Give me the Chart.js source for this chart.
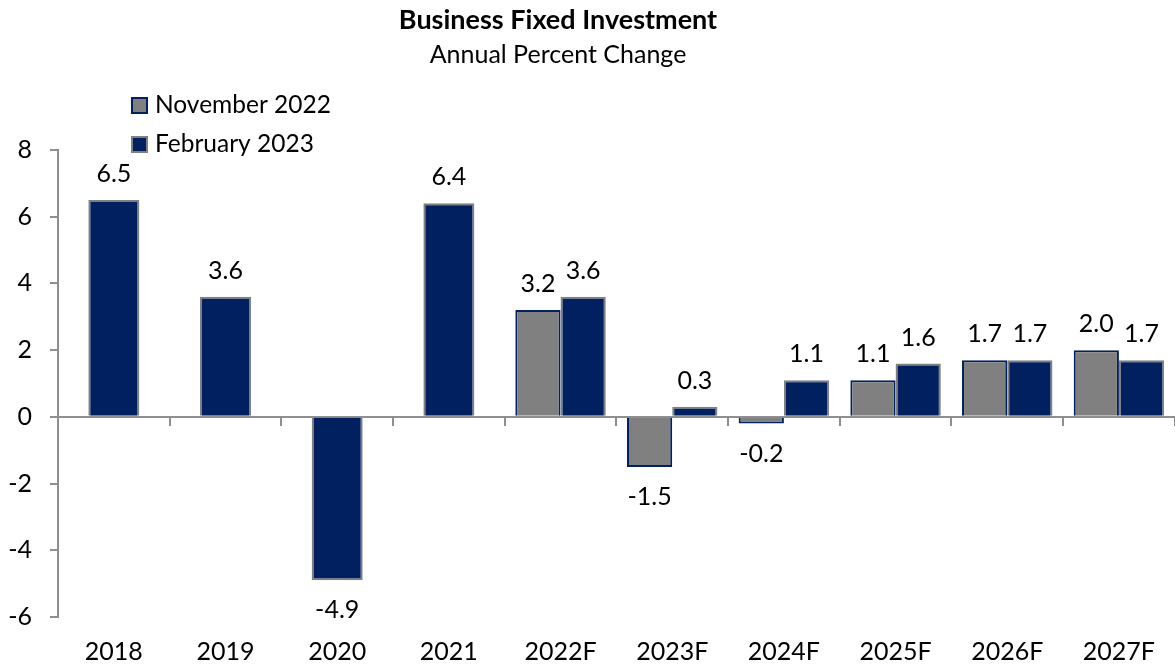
<!DOCTYPE html>
<html>
<head>
<meta charset="utf-8">
<script src="https://cdn.jsdelivr.net/npm/chart.js@4.4.1/dist/chart.umd.min.js"></script>
<style>
  html, body { margin: 0; padding: 0; background: #fff; }
</style>
</head>
<body>
<canvas id="chart" width="1175" height="668"></canvas>
<script>
// data
const categories = ["2018", "2019", "2020", "2021", "2022F", "2023F", "2024F", "2025F", "2026F", "2027F"];
const november2022 = [null, null, null, null, 3.2, -1.5, -0.2, 1.1, 1.7, 2.0];
const february2023 = [6.5, 3.6, -4.9, 6.4, 3.6, 0.3, 1.1, 1.6, 1.7, 1.7];
const yTicks = [-6, -4, -2, 0, 2, 4, 6, 8];

const titleText = "Business Fixed Investment";
const subtitleText = "Annual Percent Change";

const NAVY = "#002060";
const GREY = "#808080";
const AXIS = "#8f8f8f";
const FONT = "Lato, 'Liberation Sans', sans-serif";

// title, subtitle and the stacked legend in the top-left
const headerPlugin = {
    id: "header",
    afterDraw(chart) {
        const c = chart.ctx;
        c.save();
        c.fillStyle = "#000";
        c.textAlign = "center";
        c.textBaseline = "middle";
        c.font = "bold 27px " + FONT;
        c.fillText(titleText, 558, 20);
        c.font = "25px " + FONT;
        c.fillText(subtitleText, 558, 55);

        // legend
        c.textAlign = "left";
        c.font = "24.5px " + FONT;
        chart.data.datasets.forEach((ds, i) => {
            const y = 105 + i * 39;
            c.fillStyle = ds.backgroundColor;
            c.fillRect(131, y - 8, 17, 17);
            c.strokeStyle = ds.borderColor;
            c.lineWidth = 2;
            c.strokeRect(132, y - 7, 15, 15);
            c.fillStyle = "#000";
            c.fillText(ds.label, 155, y);
        });
        c.restore();
    }
};

// value labels above / below each bar
const valueLabels = {
    id: "valueLabels",
    afterDatasetsDraw(chart) {
        const c = chart.ctx;
        c.save();
        c.fillStyle = "#000";
        c.font = "25px " + FONT;
        c.textAlign = "center";
        c.textBaseline = "middle";
        chart.data.datasets.forEach((ds, di) => {
            const meta = chart.getDatasetMeta(di);
            meta.data.forEach((bar, i) => {
                const v = ds.data[i];
                if (v === null || v === undefined) return;
                const y = v >= 0 ? bar.y - 26 : bar.y + 30;
                c.fillText(v.toFixed(1), bar.x, y);
            });
        });
        c.restore();
    }
};

const ctx = document.getElementById("chart").getContext("2d");

const chart = new Chart(ctx, {
    type: "bar",
    data: {
        labels: categories,
        datasets: [
            {
                label: "November 2022",
                data: november2022,
                backgroundColor: GREY,
                borderColor: NAVY,
                borderWidth: 2
            },
            {
                label: "February 2023",
                data: february2023,
                backgroundColor: NAVY,
                borderColor: GREY,
                borderWidth: 2,
                maxBarThickness: 51
            }
        ]
    },
    options: {
        responsive: false,
        animation: false,
        devicePixelRatio: 1,
        skipNull: true,
        categoryPercentage: 0.81,
        barPercentage: 1.0,
        layout: { padding: { top: 150, left: 0, right: 0, bottom: 0 } },
        plugins: {
            legend: { display: false },
            title: { display: false },
            tooltip: { enabled: false }
        },
        scales: {
            x: {
                position: "bottom",
                offset: true,
                grid: { display: false, drawTicks: false },
                border: { display: false },
                ticks: {
                    color: "#000",
                    padding: 20,
                    font: { family: FONT, size: 25 },
                    maxRotation: 0
                },
                afterFit(scale) { scale.height = 51; }
            },
            xZero: {
                type: "category",
                position: { y: 0 },
                offset: true,
                grid: {
                    offset: true,
                    drawOnChartArea: false,
                    drawTicks: true,
                    tickLength: 8,
                    color: AXIS,
                    lineWidth: 2
                },
                border: { color: AXIS, width: 2 },
                ticks: { display: false }
            },
            y: {
                min: -6,
                max: 8,
                afterBuildTicks(axis) {
                    axis.ticks = yTicks.map(v => ({ value: v }));
                },
                grid: {
                    drawOnChartArea: false,
                    drawTicks: true,
                    tickLength: 8,
                    color: AXIS,
                    lineWidth: 2
                },
                border: { color: AXIS, width: 2 },
                ticks: {
                    color: "#000",
                    padding: 18,
                    font: { family: FONT, size: 25 }
                },
                afterFit(scale) { scale.width = 58; }
            }
        }
    },
    plugins: [headerPlugin, valueLabels]
});
</script>
</body>
</html>
